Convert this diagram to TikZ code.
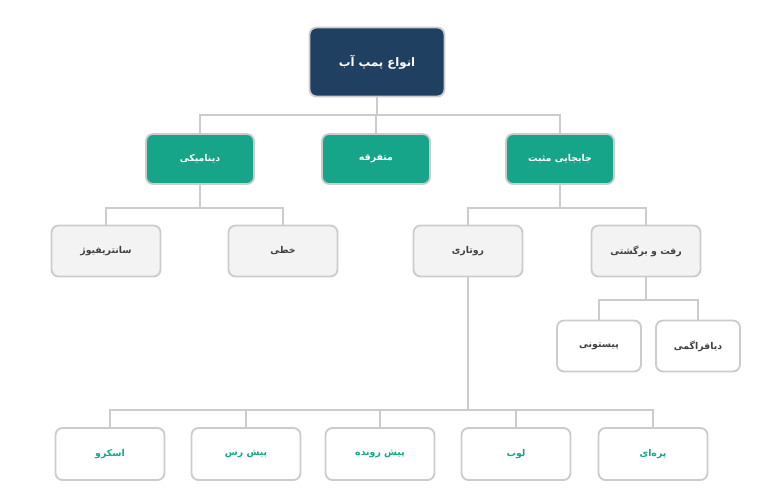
\documentclass[tikz,border=0pt]{standalone}
\usepackage{fontspec}
\newfontfamily\arabicfont[Script=Arabic]{DejaVu Sans}
\TeXXeTstate=1
\usetikzlibrary{positioning}
\definecolor{navy}{HTML}{1F4060}
\definecolor{teal}{HTML}{17A589}
\definecolor{edgegray}{HTML}{CCCCCC}
\definecolor{boxgray}{HTML}{F3F3F3}
\newcommand{\fa}[1]{\arabicfont\bfseries\beginR #1\endR}

\begin{document}
\begin{tikzpicture}[x=0.03cm, y=-0.03cm,
    every node/.style={font=\footnotesize},
    rootbox/.style={draw=edgegray, line width=1.6pt, fill=navy, text=white, rounded corners=6pt,
        minimum width=135*0.03cm, minimum height=69*0.03cm, font=\normalsize},
    mainbox/.style={draw=edgegray, line width=1.6pt, fill=teal, text=white, rounded corners=6pt,
        minimum width=108*0.03cm, minimum height=50*0.03cm},
    subbox/.style={draw=edgegray, line width=1.6pt, fill=boxgray, text=black!75, rounded corners=6pt,
        minimum width=109*0.03cm, minimum height=51*0.03cm},
    leafbox/.style={draw=edgegray, line width=1.6pt, fill=white, text=teal, rounded corners=6pt,
        minimum width=109*0.03cm, minimum height=52*0.03cm},
    conn/.style={draw=edgegray, line width=1.6pt}]
    \useasboundingbox (0,0) rectangle (763,494);

    % top
    \node[rootbox] (root) at (377,62) {\fa{انواع پمپ آب}};

    % main kinds
    \node[mainbox] (dyn) at (200,159) {\fa{دینامیکی}};
    \node[mainbox] (misc) at (376,159) {\fa{متفرقه}};
    \node[mainbox] (pos) at (560,159) {\fa{جابجایی مثبت}};

    % second level
    \node[subbox] (cent) at (106,251) {\fa{سانتریفیوژ}};
    \node[subbox] (lin) at (283,251) {\fa{خطی}};
    \node[subbox] (rot) at (468,251) {\fa{روتاری}};
    \node[subbox] (recip) at (646,251) {\fa{رفت و برگشتی}};

    % reciprocating
    \node[subbox, fill=white, minimum width=84*0.03cm] (piston) at (599,346) {\fa{پیستونی}};
    \node[subbox, fill=white, minimum width=84*0.03cm] (diaph) at (698,346) {\fa{دیافراگمی}};

    % rotary
    \node[leafbox] (screw) at (110,454) {\fa{اسکرو}};
    \node[leafbox] (press) at (246,454) {\fa{پیش رس}};
    \node[leafbox] (prog) at (380,454) {\fa{پیش رونده}};
    \node[leafbox] (lobe) at (516,454) {\fa{لوب}};
    \node[leafbox] (vane) at (653,454) {\fa{پره‌ای}};

    % junction points
    \coordinate (j0) at (377,115);
    \coordinate (j1) at (200,208);
    \coordinate (j2) at (560,208);
    \coordinate (j3) at (646,300);
    \coordinate (j4) at (468,410);

    % connectors
    \draw[conn] (root.south) -- (j0);
    \foreach \n in {dyn,misc,pos} \draw[conn] (j0) -| (\n.north);
    \draw[conn] (dyn.south) -- (j1);
    \foreach \n in {cent,lin} \draw[conn] (j1) -| (\n.north);
    \draw[conn] (pos.south) -- (j2);
    \foreach \n in {rot,recip} \draw[conn] (j2) -| (\n.north);
    \draw[conn] (recip.south) -- (j3);
    \foreach \n in {piston,diaph} \draw[conn] (j3) -| (\n.north);
    \draw[conn] (rot.south) -- (j4);
    \foreach \n in {screw,press,prog,lobe,vane} \draw[conn] (j4) -| (\n.north);
\end{tikzpicture}
\end{document}
